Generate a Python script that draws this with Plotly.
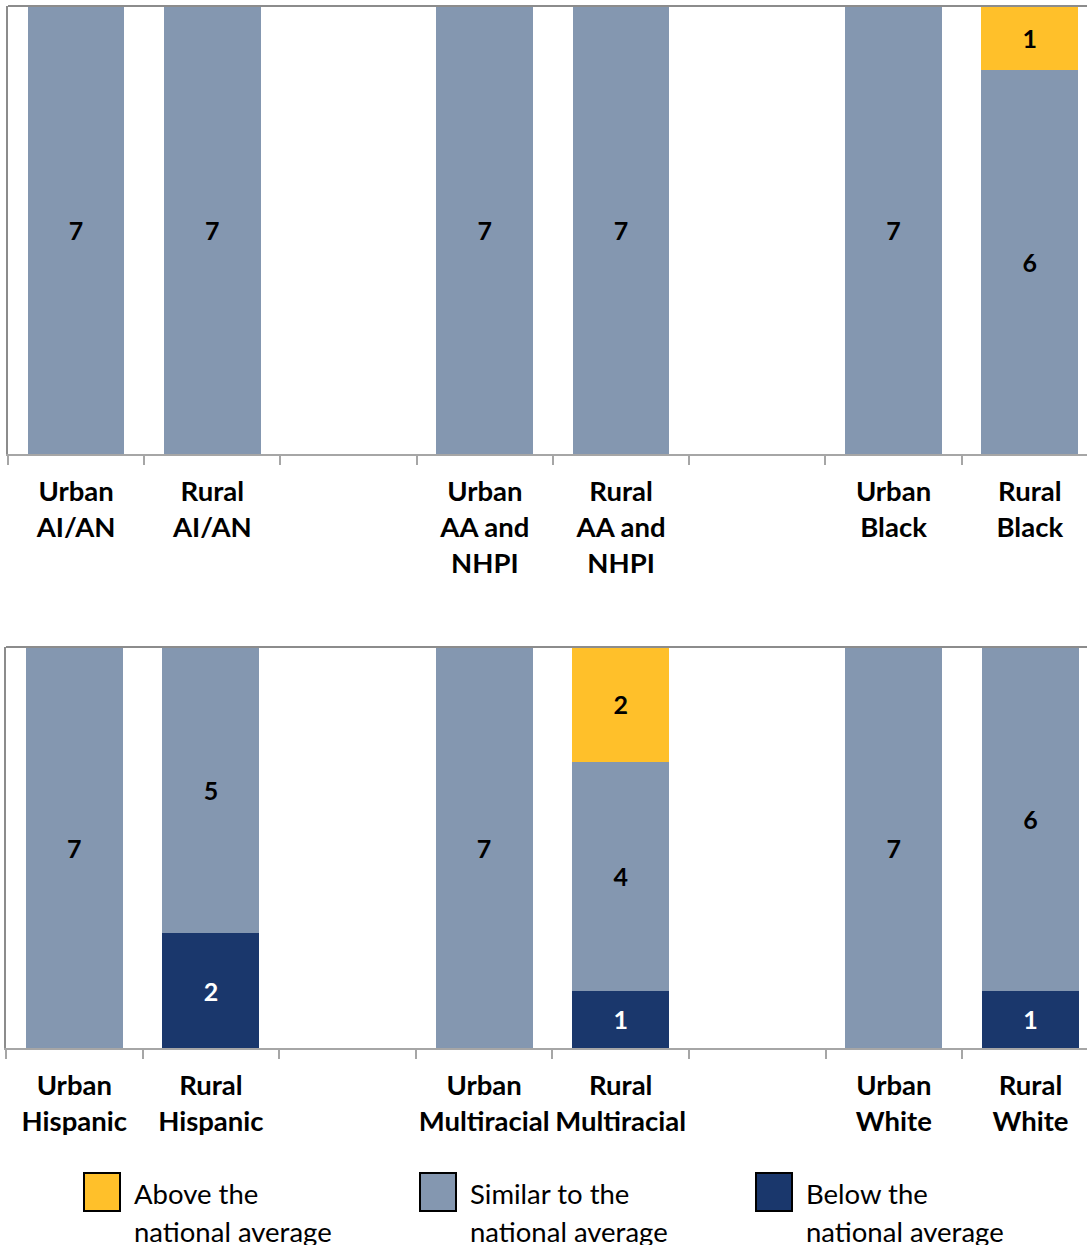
import plotly.graph_objects as go

# Categories for each panel (blank entries are spacer slots between groups)
top_categories = ["Urban<br>AI/AN", "Rural<br>AI/AN", " ",
                  "Urban<br>AA and<br>NHPI", "Rural<br>AA and<br>NHPI", "  ",
                  "Urban<br>Black", "Rural<br>Black"]
bottom_categories = ["Urban<br>Hispanic", "Rural<br>Hispanic", " ",
                     "Urban<br>Multiracial", "Rural<br>Multiracial", "  ",
                     "Urban<br>White", "Rural<br>White"]

top_groups = ["Urban<br>AI/AN", "Rural<br>AI/AN",
              "Urban<br>AA and<br>NHPI", "Rural<br>AA and<br>NHPI",
              "Urban<br>Black", "Rural<br>Black"]
bottom_groups = ["Urban<br>Hispanic", "Rural<br>Hispanic",
                 "Urban<br>Multiracial", "Rural<br>Multiracial",
                 "Urban<br>White", "Rural<br>White"]

# Number of measures in each comparison bucket
top_below = [None, None, None, None, None, None]
top_similar = [7, 7, 7, 7, 7, 6]
top_above = [None, None, None, None, None, 1]

bottom_below = [None, 2, None, 1, None, 1]
bottom_similar = [7, 5, 7, 4, 7, 6]
bottom_above = [None, None, None, 2, None, None]

series_names = ["Below the national average",
                "Similar to the national average",
                "Above the national average"]
legend_lines = [["Above the", "national average"],
                ["Similar to the", "national average"],
                ["Below the", "national average"]]

YELLOW = "#FFC02A"
GRAY = "#8497B0"
NAVY = "#1A376C"
FONT = "Lato"

W, H = 1087, 1245

fig = go.Figure()


def add_panel(groups, below, similar, above, xa, ya):
    for name, vals, color, tcolor in [
        (series_names[0], below, NAVY, "white"),
        (series_names[1], similar, GRAY, "black"),
        (series_names[2], above, YELLOW, "black"),
    ]:
        fig.add_trace(go.Bar(
            x=groups, y=vals, name=name, xaxis=xa, yaxis=ya,
            marker=dict(color=color, line=dict(width=0)),
            width=0.71,
            text=[("" if v is None else str(v)) for v in vals],
            textposition="inside", insidetextanchor="middle",
            textangle=0, constraintext="none",
            textfont=dict(family=FONT, size=25, color=tcolor, weight="bold"),
            showlegend=False, hoverinfo="skip",
        ))


add_panel(top_groups, top_below, top_similar, top_above, "x", "y")
add_panel(bottom_groups, bottom_below, bottom_similar, bottom_above, "x2", "y2")

top_dom = [1 - 454 / H, 1 - 6 / H]
bot_dom = [1 - 1048 / H, 1 - 647 / H]

xcommon = dict(
    type="category", tickson="boundaries", ticks="outside", ticklen=9,
    tickcolor="#A6A6A6", tickwidth=1.5, showline=True, linecolor="#A6A6A6",
    linewidth=2, showgrid=False, zeroline=False, fixedrange=True,
    tickangle=0, automargin=False,
    tickfont=dict(family=FONT, size=27.5, color="black", weight="bold"),
    ticklabelstandoff=12,
)
ycommon = dict(range=[0, 7], showticklabels=False, ticks="", showgrid=False,
               zeroline=False, showline=True, linecolor="#8C8C8C", linewidth=2,
               automargin=False)

fig.update_layout(
    width=W, height=H,
    margin=dict(l=0, r=0, t=0, b=0, autoexpand=False),
    paper_bgcolor="white", plot_bgcolor="white",
    barmode="stack",
    xaxis=dict(xcommon, domain=[8 / W, 1], categoryorder="array",
               categoryarray=top_categories, range=[-0.5, 7.42], anchor="y"),
    yaxis=dict(ycommon, domain=top_dom, anchor="x"),
    xaxis2=dict(xcommon, domain=[6 / W, 1], categoryorder="array",
                categoryarray=bottom_categories, range=[-0.5, 7.414], anchor="y2"),
    yaxis2=dict(ycommon, domain=bot_dom, anchor="x2"),
)

# Top border of each plot area
for dom, x0 in [(top_dom, 8 / W), (bot_dom, 6 / W)]:
    fig.add_shape(type="line", xref="paper", yref="paper",
                  x0=x0, x1=1, y0=dom[1], y1=dom[1],
                  line=dict(color="#8C8C8C", width=2))

# Legend drawn as boxes with two-line captions
legend_colors = [YELLOW, GRAY, NAVY]
legend_x = [84, 420, 756]
for lx, color, lines in zip(legend_x, legend_colors, legend_lines):
    fig.add_shape(type="rect", xref="paper", yref="paper",
                  x0=lx / W, x1=(lx + 36) / W,
                  y0=1 - 1211 / H, y1=1 - 1173 / H,
                  fillcolor=color, line=dict(color="black", width=2))
    for i, line in enumerate(lines):
        fig.add_annotation(xref="paper", yref="paper",
                           x=(lx + 48) / W, y=1 - (1193 + 38 * i) / H,
                           xanchor="left", yanchor="middle",
                           text=line, showarrow=False,
                           font=dict(family=FONT, size=27.5, color="black"))

fig.write_html("out.html")
